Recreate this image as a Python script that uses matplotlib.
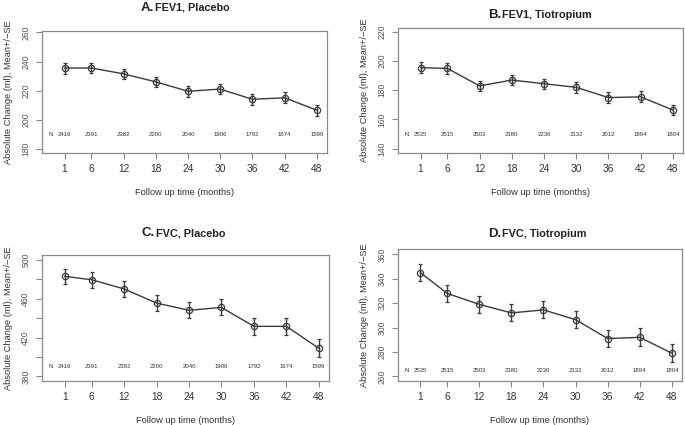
import numpy as np
import matplotlib
matplotlib.use("Agg")
import matplotlib.pyplot as plt

plt.rcParams['font.family'] = ['Liberation Sans', 'DejaVu Sans']

# follow up visits (months)
months = [1, 6, 12, 18, 24, 30, 36, 42, 48]

# number of patients per visit
n_placebo = ["2416", "2391", "2382", "2200", "2040", "1906", "1792", "1674", "1599"]
n_tio = ["2535", "2515", "2503", "2380", "2236", "2132", "2012", "1894", "1804"]

# mean absolute change (ml) and standard error
fev1_placebo = [235.5, 235.5, 231.5, 226, 219.5, 221, 214, 215, 206.5]
fev1_placebo_se = [3.8, 3.6, 3.5, 3.6, 3.6, 3.7, 3.7, 3.8, 3.8]
fev1_tio = [195.5, 195, 183, 187, 184.5, 182, 175, 175.5, 166.5]
fev1_tio_se = [3.7, 3.6, 3.5, 3.5, 3.5, 3.6, 3.7, 3.7, 3.7]
fvc_placebo = [483, 479.5, 470, 455.5, 448, 451, 431.5, 431.5, 409]
fvc_placebo_se = [8, 8, 8, 8, 8.2, 8.3, 8.5, 8.7, 9]
fvc_tio = [345, 328, 319, 312, 314.5, 306.5, 291, 292, 279]
fvc_tio_se = [7, 7, 7, 7, 7, 7.2, 7.3, 7.4, 7.5]

W, H = 685, 425
fig = plt.figure(figsize=(W / 100, H / 100), dpi=100)

dark = "#3a3a3a"
boxcol = "#8a8a8a"
txt = "#333333"

#-----------------------------------------
# one panel: box in pixels, data, ticks, title pieces
def panel(box, vals, se, nums, ylim, yticks, ylabels, nrow, letter, rest, title_y, split_x):
    left, top, right, bottom = box
    ax = fig.add_axes([left / W, 1 - bottom / H, (right - left) / W, (bottom - top) / H])
    ax.errorbar(months, vals, yerr=se, color=dark, lw=1.0, elinewidth=1.0,
                capsize=1.5, capthick=0.8, marker='o', ms=4.5, mfc='none',
                mec=dark, mew=0.9)
    ax.set_xlim(-3.2, 49.9)
    ax.set_ylim(*ylim)
    ax.set_xticks(months)
    ax.set_xticklabels([str(m) for m in months], fontsize=7.4, color=txt)
    ax.set_yticks(yticks)
    ax.set_yticklabels(ylabels, fontsize=6.2, rotation=90, va='center', color="#555555")
    ax.tick_params(axis='x', length=4, width=0.8, color=boxcol, pad=4)
    ax.tick_params(axis='y', length=4.5, width=0.8, color=boxcol, pad=4)
    for s in ax.spines.values():
        s.set_color(boxcol)
        s.set_linewidth(0.9)
    # patient numbers along the bottom
    ax.text(-1.6, nrow, "N", fontsize=4.3, ha='center', va='center', color=txt)
    for m, n in zip(months, nums):
        ax.text(m, nrow, n, fontsize=4.3, ha='center', va='center', color=txt)
    ax.set_xlabel("Follow up time (months)", fontsize=6.7, labelpad=10, color=txt)
    ax.set_ylabel("Absolute Change (ml), Mean+/\u2212SE", fontsize=6.7, labelpad=6, color=txt)
    # title: big letter + smaller bold text
    fig.text(split_x / W, 1 - title_y / H, letter, fontsize=9.5, fontweight='bold',
             ha='right', va='center', color="#222222")
    fig.text((split_x + 1) / W, 1 - title_y / H, rest, fontsize=7.8, fontweight='bold',
             ha='left', va='center', color="#222222")
    return ax

panel((42, 31, 327, 153), fev1_placebo, fev1_placebo_se, n_placebo,
      (177, 261), [180, 200, 220, 240, 260], ["180", "200", "220", "240", "260"],
      190, "A.", "FEV1, Placebo", 8, 154)
panel((398, 28, 683, 153), fev1_tio, fev1_tio_se, n_tio,
      (137, 222.7), [140, 160, 180, 200, 220], ["140", "160", "180", "200", "220"],
      150, "B.", "FEV1, Tiotropium", 15, 501)
panel((42, 255, 329, 381), fvc_placebo, fvc_placebo_se, n_placebo,
      (375.2, 505), [380, 400, 420, 440, 460, 480, 500],
      ["380", "", "420", "", "460", "", "500"],
      390, "C.", "FVC, Placebo", 233, 155)
panel((398, 249, 682, 381), fvc_tio, fvc_tio_se, n_tio,
      (256.2, 364.4), [260, 280, 300, 320, 340, 360],
      ["260", "280", "300", "320", "340", "360"],
      265, "D.", "FVC, Tiotropium", 234, 501)

fig.savefig("out.png", dpi=100)
